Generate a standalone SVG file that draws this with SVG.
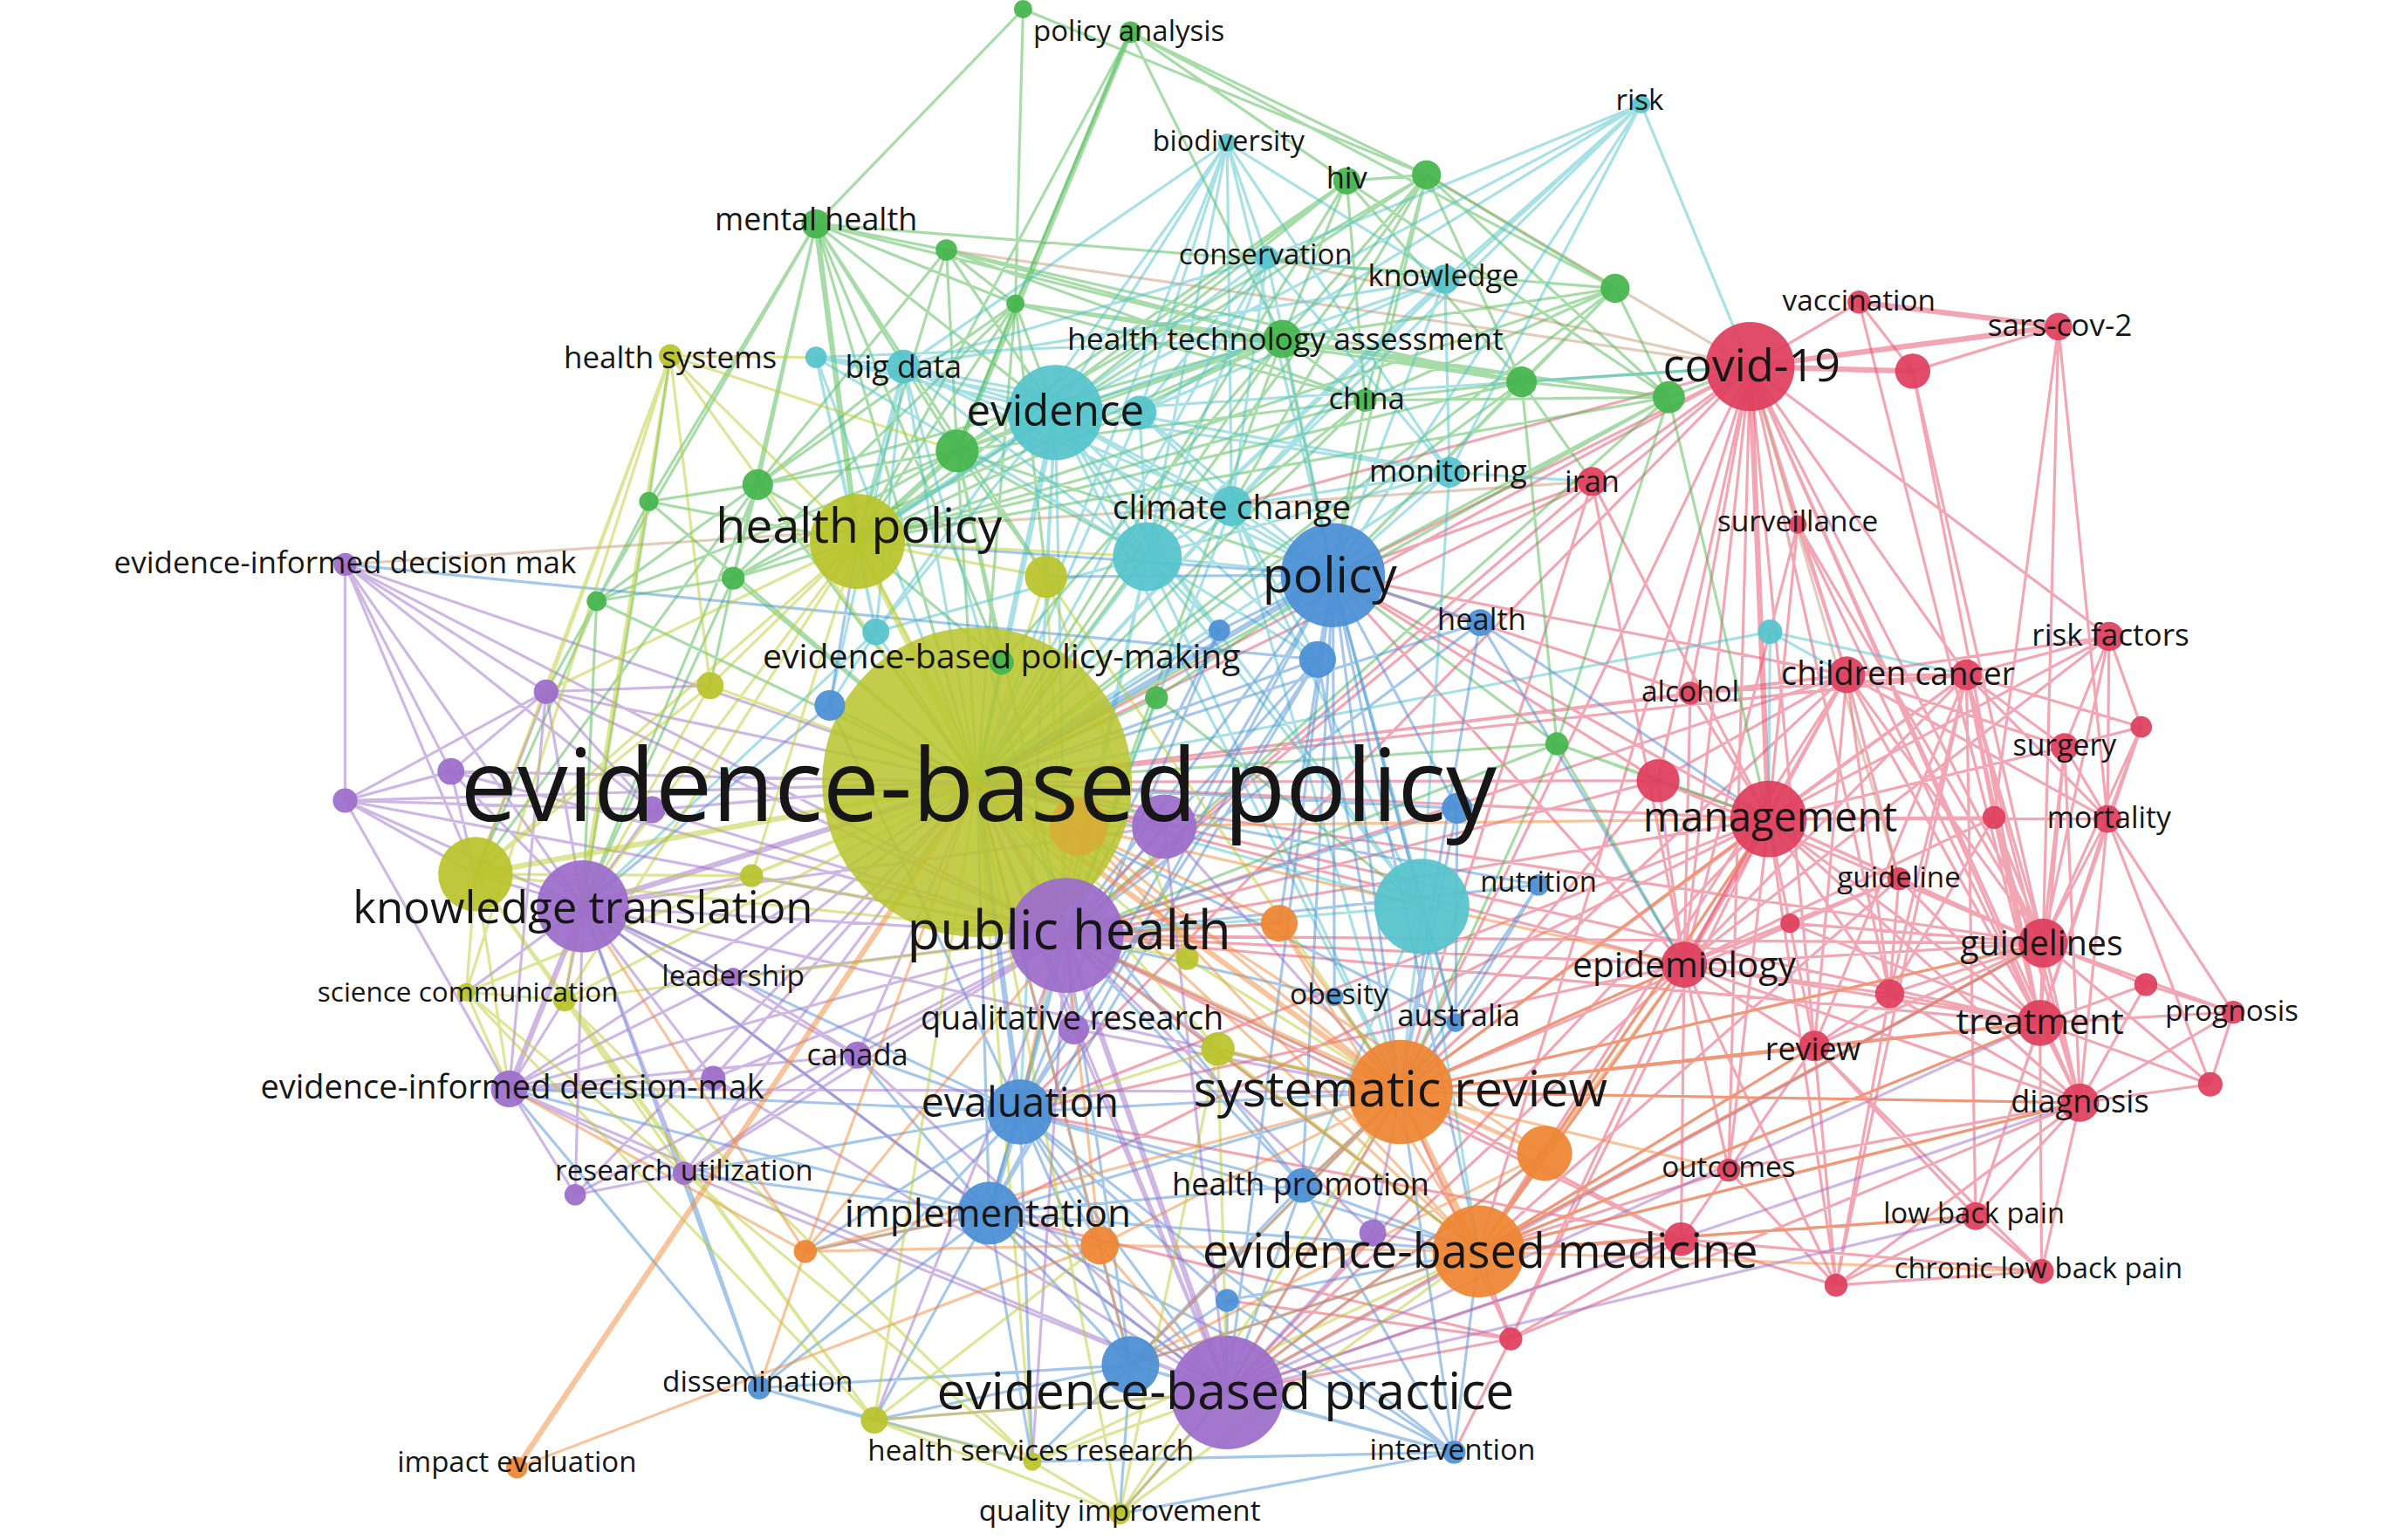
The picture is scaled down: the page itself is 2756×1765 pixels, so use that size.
<svg xmlns="http://www.w3.org/2000/svg" width="2756" height="1765" viewBox="0 0 2756 1765">
<style>
.e{fill:none;stroke-linecap:round;stroke-width:1.8;stroke-opacity:.5}
.tk{stroke-width:3.6}
.red{stroke:#e54b68}.green{stroke:#4fba52}.cyan{stroke:#4fc2cc}.blue{stroke:#4a8fd5}.olive{stroke:#bccb2e}.purple{stroke:#a070cc}.orange{stroke:#f08a3a}.mix{stroke:#c99a78}
circle{fill-opacity:.93}
.nr{fill:#df3e5d}.ng{fill:#45b54c}.nc{fill:#55c4cc}.nb{fill:#4a8fd5}.no{fill:#b9c42b}.np{fill:#9c6dca}.nor{fill:#ee8533}.ngold{fill:#d6ad36}
text{font-family:"Open Sans","Noto Sans","DejaVu Sans",sans-serif;fill:#161616;text-anchor:middle}
</style>
<rect width="2756" height="1765" fill="#ffffff"/>
<g transform="scale(1.7577)">
<g id="connectors">
<path class="e red" d="M1141 239L1212 197M1212 197L1247 242M1342 213L1247 242M1247 242L1332 615M1247 242L1330 667M1212 197L1330 667M1342 213L1332 615M1342 213L1374 534M1342 213L1300 533M1141 239L1038 314M1141 239L1172 342M1141 239L1102 452M1141 239L1204 440M1141 239L1282 440M1141 239L1375 415M1141 239L1081 509M1141 239L1098 629M1141 239L1332 615M1141 239L1232 648M1141 239L1330 667M1141 239L1183 682M1141 239L1356 719M1141 239L1127 763M1141 239L637 510M1141 239L869 375M1141 239L913 712M1141 239L695 610M1141 239L665 725M1141 239L964 816M1141 239L803 330M1038 314L637 510M1038 314L869 375M1038 314L695 610M1038 314L913 712M1038 314L1153 534M1038 314L1098 629M1172 342L1204 440M1172 342L1153 534M1172 342L1098 629M1172 342L1332 615M1172 342L1330 667M1102 452L1204 440M1102 452L1153 534M1102 452L1098 629M1102 452L637 510M1102 452L869 375M1102 452L1282 440M1204 440L637 510M1204 440L695 610M1204 440L869 375M1204 440L913 712M1204 440L1282 440M1204 440L1375 415M1204 440L1346 487M1204 440L1153 534M1204 440L1098 629M1204 440L1332 615M1204 440L1330 667M1204 440L1238 573M1204 440L1183 682M1204 440L1232 648M1204 440L1374 534M1204 440L964 816M1204 440L1081 509M1282 440L1375 415M1282 440L1396 474M1282 440L1346 487M1282 440L1300 533M1282 440L1374 534M1282 440L1332 615M1282 440L1330 667M1282 440L1356 719M1282 440L1153 534M1282 440L1098 629M1282 440L1183 682M1282 440L637 510M1282 440L1288 793M1282 440L1197 838M1282 440L913 712M1282 440L1232 648M1375 415L1396 474M1375 415L1346 487M1375 415L1374 534M1375 415L1332 615M1375 415L1153 534M1375 415L1098 629M1396 474L1346 487M1396 474L1374 534M1396 474L1332 615M1396 474L1330 667M1346 487L1374 534M1346 487L1332 615M1346 487L1330 667M1346 487L1356 719M1346 487L1153 534M1300 533L1332 615M1300 533L1330 667M1300 533L1232 648M1300 533L1153 534M1300 533L1356 719M1300 533L1098 629M1374 534L1332 615M1374 534L1330 667M1374 534L1456 660M1374 534L1356 719M1374 534L1153 534M1374 534L1441 707M1374 534L1288 793M1153 534L637 510M1153 534L695 610M1153 534L913 712M1153 534L964 816M1153 534L869 375M1153 534L665 725M1153 534L645 791M1153 534L800 908M1153 534L1081 509M1153 534L1332 615M1153 534L1330 667M1153 534L1356 719M1153 534L1232 648M1153 534L1238 573M1153 534L1183 682M1153 534L1127 763M1153 534L1197 838M1153 534L1007 752M1081 509L637 510M1081 509L695 610M1081 509L869 375M1081 509L913 712M1081 509L1098 629M1081 509L1332 615M1238 573L1232 648M1238 573L1332 615M1238 573L1098 629M1238 573L913 712M1238 573L964 816M1238 573L1330 667M1167 602L1332 615M1167 602L1098 629M1167 602L1330 667M1098 629L637 510M1098 629L695 610M1098 629L913 712M1098 629L964 816M1098 629L869 375M1098 629L1332 615M1098 629L1330 667M1098 629L1356 719M1098 629L1127 763M1098 629L1232 648M1098 629L1197 838M1098 629L1096 808M1098 629L665 725M1098 629L800 908M1098 629L1183 682M1332 615L1330 667M1332 615L1456 660M1332 615L1399 642M1332 615L1356 719M1332 615L1183 682M1332 615L1232 648M1332 615L1441 707M1332 615L913 712M1332 615L964 816M1332 615L637 510M1332 615L695 610M1399 642L1330 667M1399 642L1356 719M1399 642L1456 660M1232 648L1330 667M1232 648L1197 838M1232 648L1183 682M1232 648L1356 719M1330 667L1456 660M1330 667L1356 719M1330 667L1183 682M1330 667L1441 707M1330 667L1288 793M1330 667L1331 829M1330 667L913 712M1330 667L964 816M1330 667L695 610M1330 667L637 510M1456 660L1441 707M1456 660L1356 719M1183 682L1127 763M1183 682L1197 838M1183 682L1288 793M1183 682L1331 829M1183 682L913 712M1183 682L964 816M1356 719L1441 707M1356 719L1288 793M1356 719L1331 829M1356 719L1197 838M1356 719L1127 763M1356 719L964 816M1356 719L913 712M1127 763L1096 808M1127 763L964 816M1127 763L1197 838M1288 793L1331 829M1288 793L1197 838M1288 793L964 816M1096 808L964 816M1096 808L913 712M1096 808L800 908M1096 808L695 610M1096 808L1197 838M1096 808L985 873M1096 808L665 725M985 873L964 816M985 873L800 908M985 873L800 848M985 873L913 712M985 873L1098 629M985 873L1153 534M985 873L948 947M985 873L1356 719M985 873L645 791M1197 838L1331 829M1331 829L1096 808"/>
<path class="e red tk" d="M1141 239L1342 213M1141 239L1247 242M1212 197L1342 213M1153 534L1098 629M1141 239L1153 534"/>
<path class="e mix" d="M617 163L1141 239M930 114L1141 239M826 168L1141 239M225 368L1038 314M1141 239L1238 573"/>
<path class="e green" d="M667 6L532 146M667 6L662 198M667 6L930 114M737 21L878 118M737 21L930 114M737 21L836 221M737 21L1053 188M737 21L559 353M737 21L662 198M532 146L617 163M532 146L662 198M532 146L624 294M532 146L494 316M532 146L423 327M532 146L478 377M532 146L637 510M532 146L836 221M532 146L688 269M532 146L389 392M532 146L1053 188M532 146L682 376M532 146L653 432M617 163L662 198M617 163L624 294M617 163L836 221M617 163L559 353M617 163L494 316M617 163L688 269M617 163L890 261M617 163L992 249M662 198L624 294M662 198L559 353M662 198L836 221M662 198L688 269M662 198L494 316M662 198L890 261M662 198L637 510M662 198L992 249M662 198L682 376M662 198L478 377M662 198L1088 259M878 118L930 114M878 118L836 221M878 118L890 261M878 118L992 249M878 118L559 353M878 118L624 294M878 118L688 269M878 118L637 510M878 118L1088 259M930 114L836 221M930 114L890 261M930 114L992 249M930 114L1088 259M930 114L1053 188M930 114L559 353M930 114L637 510M930 114L624 294M930 114L869 375M930 114L803 330M1053 188L992 249M1053 188L1088 259M1053 188L890 261M1053 188L836 221M1053 188L559 353M1053 188L637 510M1053 188L869 375M836 221L992 249M836 221L1088 259M836 221L890 261M836 221L559 353M836 221L624 294M836 221L494 316M836 221L637 510M836 221L688 269M836 221L869 375M836 221L653 432M836 221L478 377M836 221L695 610M992 249L1088 259M992 249L1141 239M992 249L890 261M992 249L637 510M992 249L869 375M992 249L1038 314M992 249L1015 485M992 249L559 353M1088 259L1141 239M1088 259L637 510M1088 259L869 375M1088 259L1015 485M1088 259L695 610M1088 259L1153 534M1088 259L559 353M1088 259L890 261M890 261L637 510M890 261L869 375M890 261L624 294M890 261L559 353M890 261L803 330M624 294L494 316M624 294L637 510M624 294L478 377M624 294L653 432M624 294L682 376M624 294L688 269M624 294L869 375M624 294L695 610M624 294L389 392M624 294L748 363M494 316L559 353M494 316L423 327M494 316L478 377M494 316L637 510M494 316L380 591M494 316L389 392M494 316L310 570M494 316L589 239M423 327L559 353M423 327L389 392M423 327L437 232M423 327L637 510M423 327L380 591M478 377L559 353M478 377L637 510M478 377L389 392M478 377L380 591M478 377L463 447M389 392L637 510M389 392L380 591M389 392L310 570M389 392L356 451M754 455L637 510M754 455L869 375M754 455L695 610M754 455L927 591M1015 485L1153 534M1015 485L1081 509M1015 485L637 510M1015 485L869 375M1015 485L1098 629M1015 485L913 712M1015 485L695 610M653 432L637 510M653 432L559 353"/>
<path class="e green tk" d="M737 21L624 294M624 294L559 353M532 146L559 353"/>
<path class="e cyan" d="M1070 68L942 182M1070 68L803 330M1070 68L688 269M1070 68L748 363M1070 68L945 308M1070 68L1141 239M1070 68L826 168M1070 68L869 375M1070 68L743 269M800 93L826 168M800 93L688 269M800 93L803 330M800 93L748 363M800 93L743 269M800 93L942 182M800 93L589 239M800 93L869 375M800 93L945 308M800 93L637 510M800 93L571 412M826 168L688 269M826 168L803 330M826 168L748 363M826 168L743 269M826 168L942 182M826 168L589 239M826 168L945 308M826 168L869 375M826 168L637 510M942 182L688 269M942 182L803 330M942 182L748 363M942 182L945 308M942 182L743 269M942 182L869 375M942 182L637 510M942 182L589 239M589 239L532 233M589 239L688 269M589 239L748 363M589 239L571 412M589 239L637 510M589 239L559 353M589 239L869 375M589 239L803 330M589 239L695 610M589 239L541 460M589 239L743 269M532 233L688 269M532 233L571 412M532 233L559 353M532 233L637 510M532 233L748 363M532 233L945 308M532 233L836 221M688 269L743 269M688 269L803 330M688 269L748 363M688 269L571 412M688 269L869 375M688 269L695 610M688 269L927 591M688 269L913 712M688 269L665 725M688 269L795 411M688 269L859 430M688 269L945 308M688 269L1141 239M688 269L682 376M743 269L803 330M743 269L748 363M743 269L637 510M743 269L869 375M803 330L748 363M803 330L869 375M803 330L637 510M803 330L945 308M803 330L927 591M803 330L859 430M803 330L695 610M803 330L913 712M748 363L637 510M748 363L869 375M748 363L695 610M748 363L927 591M748 363L859 430M748 363L795 411M748 363L571 412M748 363L913 712M748 363L665 725M945 308L869 375M945 308L637 510M945 308L927 591M945 308L1038 314M945 308L748 363M571 412L637 510M571 412L559 353M571 412L380 591M571 412L541 460M1154 412L1204 440M1154 412L1282 440M1154 412L637 510M1154 412L1153 534M927 591L637 510M927 591L695 610M927 591L913 712M927 591L869 375M927 591L949 667M927 591L849 773M927 591L964 816"/>
<path class="e cyan tk" d="M688 269L637 510M688 269L559 353"/>
<path class="e blue" d="M869 375L695 610M869 375L927 591M869 375L913 712M869 375L964 816M869 375L859 430M869 375L795 411M869 375L965 406M869 375L950 527M869 375L665 725M869 375L645 791M869 375L849 773M869 375L800 908M869 375L559 353M869 375L949 667M869 375L870 650M869 375L834 602M869 375L682 376M795 411L637 510M795 411L695 610M795 411L665 725M859 430L637 510M859 430L695 610M859 430L665 725M859 430L913 712M859 430L645 791M965 406L637 510M965 406L1153 534M965 406L913 712M965 406L695 610M965 406L1098 629M541 460L637 510M541 460L559 353M541 460L380 591M541 460L665 725M950 527L637 510M950 527L913 712M950 527L695 610M950 527L949 667M1003 577L637 510M1003 577L913 712M1003 577L695 610M1003 577L949 667M870 650L913 712M870 650L695 610M949 667L913 712M949 667L637 510M665 725L695 610M665 725L913 712M665 725L964 816M665 725L800 908M665 725L737 890M665 725L849 773M665 725L559 688M665 725L380 591M665 725L495 905M665 725L948 947M665 725L673 953M665 725L800 848M665 725L332 710M665 725L717 812M665 725L525 816M665 725L446 765M645 791L637 510M645 791L695 610M645 791L800 908M645 791L913 712M645 791L964 816M645 791L737 890M645 791L495 905M645 791L570 926M645 791L673 953M645 791L380 591M645 791L559 688M645 791L948 947M645 791L717 812M645 791L525 816M645 791L332 710M645 791L446 765M645 791L849 773M849 773L637 510M849 773L695 610M849 773L913 712M849 773L964 816M849 773L800 908M849 773L737 890M849 773L948 947M800 848L800 908M800 848L964 816M800 848L737 890M800 848L948 947M737 890L800 908M737 890L948 947M737 890L570 926M737 890L673 953M737 890L730 987M737 890L495 905M737 890L964 816M737 890L913 712M737 890L695 610M737 890L637 510M495 905L570 926M495 905L446 765M495 905L332 710M495 905L673 953M495 905L380 591M948 947L800 908M948 947L964 816M948 947L913 712M948 947L673 953M948 947L730 987M225 368L859 430"/>
<path class="e blue tk" d="M869 375L637 510M665 725L645 791M665 725L637 510"/>
<path class="e purple" d="M225 368L356 451M225 368L294 503M225 368L225 522M225 368L425 528M225 368L380 591M225 368L637 510M225 368L695 610M225 368L310 570M356 451L225 522M356 451L425 528M356 451L380 591M356 451L637 510M356 451L695 610M356 451L310 570M356 451L294 503M356 451L332 710M356 451L463 447M294 503L225 522M294 503L380 591M294 503L637 510M294 503L695 610M294 503L310 570M225 522L380 591M225 522L310 570M225 522L637 510M225 522L695 610M225 522L332 710M225 522L425 528M425 528L637 510M425 528L695 610M425 528L380 591M380 591L695 610M380 591L446 765M380 591L559 688M380 591L465 703M380 591L478 637M380 591L310 570M380 591L800 908M380 591L913 712M380 591L375 779M380 591L304 647M380 591L368 652M380 591L490 571M380 591L759 539M695 610L913 712M695 610L964 816M695 610L559 688M695 610L700 671M695 610L759 539M695 610L834 602M695 610L794 684M695 610L895 804M695 610L570 926M695 610L673 953M695 610L478 637M695 610L465 703M759 539L637 510M759 539L913 712M759 539L800 908M478 637L637 510M478 637L332 710M478 637L559 688M559 688L637 510M559 688L800 908M559 688L332 710M559 688L446 765M465 703L332 710M465 703L637 510M465 703L800 908M332 710L446 765M332 710L375 779M332 710L637 510M332 710L695 610M332 710L800 908M332 710L465 703M332 710L368 652M332 710L913 712M446 765L375 779M446 765L637 510M446 765L800 908M446 765L695 610M375 779L637 510M375 779L695 610M700 671L637 510M700 671L800 908M700 671L913 712M895 804L800 908M895 804L964 816M895 804L913 712M800 908L637 510M800 908L913 712M800 908L964 816M800 908L730 987M800 908L570 926M800 908L1356 719M800 908L1288 793M800 908L1330 667M800 908L1332 615M800 908L1007 752"/>
<path class="e purple tk" d="M695 610L637 510M380 591L637 510M332 710L380 591M695 610L800 908"/>
<path class="e orange" d="M913 712L695 610M913 712L1007 752M913 712L834 602M913 712L849 773M913 712L1153 534M913 712L1098 629M913 712L1330 667M913 712L1332 615M913 712L1356 719M913 712L717 812M913 712L525 816M913 712L1127 763M913 712L1183 682M913 712L794 684M913 712L737 890M913 712L800 908M964 816L637 510M964 816L695 610M964 816L1007 752M964 816L800 908M964 816L737 890M964 816L1153 534M964 816L1098 629M964 816L1332 615M964 816L1330 667M964 816L1356 719M964 816L1288 793M964 816L1331 829M964 816L1183 682M964 816L717 812M1007 752L637 510M1007 752L695 610M1007 752L1098 629M1007 752L1153 534M1007 752L800 908M1007 752L737 890M834 602L637 510M834 602L695 610M834 602L964 816M717 812L800 908M717 812L964 816M717 812L637 510M717 812L695 610M717 812L525 816M717 812L737 890M525 816L645 791M525 816L380 591M525 816L332 710M525 816L495 905M525 816L637 510M525 816L695 610M337 957L717 812M703 539L913 712M703 539L964 816M703 539L665 725M703 539L1153 534M703 539L1098 629"/>
<path class="e orange tk" d="M337 957L637 510M913 712L964 816M913 712L637 510"/>
<path class="e olive" d="M637 510L437 232M637 510L682 376M637 510L463 447M637 510L490 571M637 510L774 625M637 510L304 647M637 510L368 652M637 510L794 684M637 510L570 926M637 510L673 953M637 510L730 987M559 353L437 232M559 353L682 376M559 353L463 447M559 353L310 570M559 353L380 591M559 353L356 451M559 353L695 610M559 353L490 571M559 353L748 363M559 353L368 652M437 232L310 570M437 232L380 591M437 232L463 447M437 232L368 652M437 232L304 647M437 232L532 233M437 232L624 294M437 232L356 451M682 376L774 625M682 376L913 712M682 376L695 610M463 447L310 570M463 447L380 591M310 570L304 647M310 570L368 652M310 570L490 571M310 570L695 610M310 570L332 710M310 570L570 926M490 571L695 610M774 625L913 712M774 625L695 610M304 647L368 652M304 647L332 710M304 647L570 926M304 647L673 953M368 652L570 926M368 652L673 953M368 652L695 610M368 652L446 765M794 684L913 712M794 684L964 816M794 684L800 908M794 684L665 725M794 684L730 987M570 926L673 953M570 926L730 987M570 926L800 908M570 926L717 812M673 953L730 987M673 953L800 908M673 953L964 816M730 987L800 908M730 987L964 816M730 987L913 712"/>
<path class="e olive tk" d="M637 510L559 353M637 510L310 570"/>
</g>
<g id="nodes">
<g id="node-evidence-based-policy"><circle class="no" cx="637" cy="510" r="101" style="fill-opacity:.85"/></g>
<g id="node-public-health"><circle class="np" cx="695" cy="610" r="37.5"/></g>
<g id="node-evidence-based-practice"><circle class="np" cx="800" cy="908" r="37"/></g>
<g id="node-policy"><circle class="nb" cx="869" cy="375" r="34"/></g>
<g id="node-systematic-review"><circle class="nor" cx="913" cy="712" r="34"/></g>
<g id="node-health-policy"><circle class="no" cx="559" cy="353" r="31"/></g>
<g id="node-evidence"><circle class="nc" cx="688" cy="269" r="31"/></g>
<g id="node-cyan-big"><circle class="nc" cx="927" cy="591" r="31"/></g>
<g id="node-evidence-based-medicine"><circle class="nor" cx="964" cy="816" r="30"/></g>
<g id="node-knowledge-translation"><circle class="np" cx="380" cy="591" r="30"/></g>
<g id="node-covid-19"><circle class="nr" cx="1141" cy="239" r="29"/></g>
<g id="node-management"><circle class="nr" cx="1153" cy="534" r="25"/></g>
<g id="node-olive-left"><circle class="no" cx="310" cy="570" r="24.3"/></g>
<g id="node-cyan-2"><circle class="nc" cx="748" cy="363" r="22.5"/></g>
<g id="node-evaluation"><circle class="nb" cx="665" cy="725" r="21.3"/></g>
<g id="node-purple-mid"><circle class="np" cx="759" cy="539" r="21"/></g>
<g id="node-implementation"><circle class="nb" cx="645" cy="791" r="20.5"/></g>
<g id="node-orange-gold"><circle class="ngold" cx="703" cy="539" r="18.8"/></g>
<g id="node-blue-low"><circle class="nb" cx="737" cy="890" r="18.8"/></g>
<g id="node-orange-3"><circle class="nor" cx="1007" cy="752" r="18"/></g>
<g id="node-guidelines"><circle class="nr" cx="1332" cy="615" r="16"/></g>
<g id="node-epidemiology"><circle class="nr" cx="1098" cy="629" r="15"/></g>
<g id="node-treatment"><circle class="nr" cx="1330" cy="667" r="15"/></g>
<g id="node-green-13"><circle class="ng" cx="624" cy="294" r="14"/></g>
<g id="node-red-16"><circle class="nr" cx="1081" cy="509" r="14"/></g>
<g id="node-olive-4"><circle class="no" cx="682" cy="376" r="13.8"/></g>
<g id="node-climate-change"><circle class="nc" cx="803" cy="330" r="13"/></g>
<g id="node-children"><circle class="nr" cx="1204" cy="440" r="12"/></g>
<g id="node-health-technology-assessment"><circle class="ng" cx="836" cy="221" r="12.5"/></g>
<g id="node-diagnosis"><circle class="nr" cx="1356" cy="719" r="12.5"/></g>
<g id="node-orange-5"><circle class="nor" cx="717" cy="812" r="12.5"/></g>
<g id="node-evidence-informed-decision-mak-2"><circle class="np" cx="332" cy="710" r="12"/></g>
<g id="node-blue-3"><circle class="nb" cx="859" cy="430" r="12"/></g>
<g id="node-orange-4"><circle class="nor" cx="834" cy="602" r="12"/></g>
<g id="node-red-4"><circle class="nr" cx="1247" cy="242" r="11.5"/></g>
<g id="node-health-promotion"><circle class="nb" cx="849" cy="773" r="11.3"/></g>
<g id="node-big-data"><circle class="nc" cx="589" cy="239" r="11"/></g>
<g id="node-cyan-8"><circle class="nc" cx="743" cy="269" r="11"/></g>
<g id="node-olive-11"><circle class="no" cx="794" cy="684" r="11"/></g>
<g id="node-red-32"><circle class="nr" cx="1096" cy="808" r="11"/></g>
<g id="node-green-11"><circle class="ng" cx="1088" cy="259" r="10.5"/></g>
<g id="node-green-10"><circle class="ng" cx="992" cy="249" r="10"/></g>
<g id="node-green-14"><circle class="ng" cx="494" cy="316" r="10"/></g>
<g id="node-monitoring"><circle class="nc" cx="945" cy="308" r="10"/></g>
<g id="node-cancer"><circle class="nr" cx="1282" cy="440" r="10"/></g>
<g id="node-qualitative-research"><circle class="np" cx="700" cy="671" r="10"/></g>
<g id="node-review"><circle class="nr" cx="1183" cy="682" r="10"/></g>
<g id="node-blue-5"><circle class="nb" cx="541" cy="460" r="10"/></g>
<g id="node-blue-6"><circle class="nb" cx="950" cy="527" r="10"/></g>
<g id="node-mental-health"><circle class="ng" cx="532" cy="146" r="9.5"/></g>
<g id="node-green-7"><circle class="ng" cx="930" cy="114" r="9.5"/></g>
<g id="node-green-8"><circle class="ng" cx="1053" cy="188" r="9.5"/></g>
<g id="node-knowledge"><circle class="nc" cx="942" cy="182" r="9.5"/></g>
<g id="node-iran"><circle class="nr" cx="1038" cy="314" r="9.5"/></g>
<g id="node-risk-factors"><circle class="nr" cx="1375" cy="415" r="9.5"/></g>
<g id="node-red-22"><circle class="nr" cx="1232" cy="648" r="9.5"/></g>
<g id="node-sars-cov-2"><circle class="nr" cx="1342" cy="213" r="9"/></g>
<g id="node-surgery"><circle class="nr" cx="1346" cy="487" r="9"/></g>
<g id="node-mortality"><circle class="nr" cx="1374" cy="534" r="9"/></g>
<g id="node-low-back-pain"><circle class="nr" cx="1288" cy="793" r="9"/></g>
<g id="node-hiv"><circle class="ng" cx="878" cy="118" r="8.8"/></g>
<g id="node-health"><circle class="nb" cx="965" cy="406" r="8.8"/></g>
<g id="node-canada"><circle class="np" cx="559" cy="688" r="8.8"/></g>
<g id="node-cyan-12"><circle class="nc" cx="571" cy="412" r="8.8"/></g>
<g id="node-olive-5"><circle class="no" cx="463" cy="447" r="8.8"/></g>
<g id="node-olive-12"><circle class="no" cx="570" cy="926" r="8.8"/></g>
<g id="node-purple-3"><circle class="np" cx="294" cy="503" r="8.8"/></g>
<g id="node-purple-5"><circle class="np" cx="425" cy="528" r="8.8"/></g>
<g id="node-purple-16"><circle class="np" cx="895" cy="804" r="8.8"/></g>
<g id="node-evidence-based-policy-making"><circle class="ng" cx="653" cy="432" r="8"/></g>
<g id="node-purple-2"><circle class="np" cx="356" cy="451" r="8"/></g>
<g id="node-purple-4"><circle class="np" cx="225" cy="522" r="8"/></g>
<g id="node-purple-11"><circle class="np" cx="465" cy="703" r="8"/></g>
<g id="node-cyan-13"><circle class="nc" cx="1154" cy="412" r="8"/></g>
<g id="node-red-27"><circle class="nr" cx="1441" cy="707" r="8"/></g>
<g id="node-chronic-low-back-pain"><circle class="nr" cx="1331" cy="829" r="8"/></g>
<g id="node-health-systems"><circle class="no" cx="437" cy="232" r="7.5"/></g>
<g id="node-china"><circle class="ng" cx="890" cy="261" r="7.5"/></g>
<g id="node-evidence-informed-decision-mak"><circle class="np" cx="225" cy="368" r="7.5"/></g>
<g id="node-vaccination"><circle class="nr" cx="1212" cy="197" r="7.5"/></g>
<g id="node-alcohol"><circle class="nr" cx="1102" cy="452" r="7.5"/></g>
<g id="node-dissemination"><circle class="nb" cx="495" cy="905" r="7.5"/></g>
<g id="node-intervention"><circle class="nb" cx="948" cy="947" r="7.5"/></g>
<g id="node-prognosis"><circle class="nr" cx="1456" cy="660" r="7.5"/></g>
<g id="node-research-utilization"><circle class="np" cx="446" cy="765" r="7.5"/></g>
<g id="node-guideline"><circle class="nr" cx="1238" cy="573" r="7.5"/></g>
<g id="node-outcomes"><circle class="nr" cx="1127" cy="763" r="7.5"/></g>
<g id="node-conservation"><circle class="nc" cx="826" cy="168" r="7.5"/></g>
<g id="node-green-16"><circle class="ng" cx="478" cy="377" r="7.5"/></g>
<g id="node-green-18"><circle class="ng" cx="754" cy="455" r="7.5"/></g>
<g id="node-green-19"><circle class="ng" cx="1015" cy="485" r="7.5"/></g>
<g id="node-blue-13"><circle class="nb" cx="800" cy="848" r="7.5"/></g>
<g id="node-olive-7"><circle class="no" cx="490" cy="571" r="7.5"/></g>
<g id="node-olive-8"><circle class="no" cx="774" cy="625" r="7.5"/></g>
<g id="node-olive-10"><circle class="no" cx="368" cy="652" r="7.5"/></g>
<g id="node-orange-6"><circle class="nor" cx="525" cy="816" r="7.5"/></g>
<g id="node-red-13"><circle class="nr" cx="1300" cy="533" r="7.5"/></g>
<g id="node-red-21"><circle class="nr" cx="1399" cy="642" r="7.5"/></g>
<g id="node-red-31"><circle class="nr" cx="1197" cy="838" r="7.5"/></g>
<g id="node-red-33"><circle class="nr" cx="985" cy="873" r="7.5"/></g>
<g id="node-quality-improvement"><circle class="no" cx="730" cy="987" r="7"/></g>
<g id="node-impact-evaluation"><circle class="nor" cx="337" cy="957" r="7"/></g>
<g id="node-policy-analysis"><circle class="ng" cx="737" cy="21" r="7"/></g>
<g id="node-nutrition"><circle class="nb" cx="1003" cy="577" r="7"/></g>
<g id="node-green-4"><circle class="ng" cx="617" cy="163" r="7"/></g>
<g id="node-cyan-6"><circle class="nc" cx="532" cy="233" r="7"/></g>
<g id="node-blue-2"><circle class="nb" cx="795" cy="411" r="7"/></g>
<g id="node-purple-14"><circle class="np" cx="375" cy="779" r="7"/></g>
<g id="node-red-11"><circle class="nr" cx="1396" cy="474" r="7"/></g>
<g id="node-green-17"><circle class="ng" cx="389" cy="392" r="6.5"/></g>
<g id="node-green-15"><circle class="ng" cx="423" cy="327" r="6.3"/></g>
<g id="node-red-18"><circle class="nr" cx="1167" cy="602" r="6.3"/></g>
<g id="node-green-1"><circle class="ng" cx="667" cy="6" r="6"/></g>
<g id="node-green-5"><circle class="ng" cx="662" cy="198" r="6"/></g>
<g id="node-australia"><circle class="nb" cx="949" cy="667" r="6"/></g>
<g id="node-obesity"><circle class="nb" cx="870" cy="650" r="6"/></g>
<g id="node-surveillance"><circle class="nr" cx="1172" cy="342" r="6"/></g>
<g id="node-leadership"><circle class="np" cx="478" cy="637" r="6"/></g>
<g id="node-health-services-research"><circle class="no" cx="673" cy="953" r="6"/></g>
<g id="node-risk"><circle class="nc" cx="1070" cy="68" r="6"/></g>
<g id="node-biodiversity"><circle class="nc" cx="800" cy="93" r="6"/></g>
<g id="node-science-communication"><circle class="no" cx="304" cy="647" r="6"/></g>
</g>
<g id="labels">
<text x="638" y="512" dy="0.35em" font-size="66">evidence-based policy</text>
<text x="697" y="607" dy="0.35em" font-size="35">public health</text>
<text x="799" y="907" dy="0.35em" font-size="33.5">evidence-based practice</text>
<text x="867" y="375" dy="0.35em" font-size="32.5">policy</text>
<text x="913" y="710" dy="0.35em" font-size="32.7">systematic review</text>
<text x="560" y="343" dy="0.35em" font-size="31.6">health policy</text>
<text x="965" y="816" dy="0.35em" font-size="30.7">evidence-based medicine</text>
<text x="1142" y="238" dy="0.35em" font-size="29.6">covid-19</text>
<text x="380" y="592" dy="0.35em" font-size="29">knowledge translation</text>
<text x="688" y="268" dy="0.35em" font-size="28">evidence</text>
<text x="1154" y="533" dy="0.35em" font-size="26.7">management</text>
<text x="665" y="719" dy="0.35em" font-size="26.5">evaluation</text>
<text x="644" y="791" dy="0.35em" font-size="25.1">implementation</text>
<text x="1098" y="629" dy="0.35em" font-size="23.2">epidemiology</text>
<text x="1330" y="666" dy="0.35em" font-size="23.3">treatment</text>
<text x="1331" y="615" dy="0.35em" font-size="22.4">guidelines</text>
<text x="803" y="331" dy="0.35em" font-size="22.2">climate change</text>
<text x="653" y="428" dy="0.35em" font-size="22.3">evidence-based policy-making</text>
<text x="1202" y="439" dy="0.35em" font-size="21.5">children</text>
<text x="1281" y="439" dy="0.35em" font-size="21">cancer</text>
<text x="699" y="664" dy="0.35em" font-size="21.5">qualitative research</text>
<text x="334" y="709" dy="0.35em" font-size="21.6">evidence-informed decision-mak</text>
<text x="838" y="221" dy="0.35em" font-size="20.2">health technology assessment</text>
<text x="1356" y="718" dy="0.35em" font-size="20.6">diagnosis</text>
<text x="848" y="772" dy="0.35em" font-size="20.5">health promotion</text>
<text x="1182" y="684" dy="0.35em" font-size="20.4">review</text>
<text x="532" y="143" dy="0.35em" font-size="20.4">mental health</text>
<text x="589" y="239" dy="0.35em" font-size="20.3">big data</text>
<text x="1343" y="212" dy="0.35em" font-size="20">sars-cov-2</text>
<text x="1376" y="414" dy="0.35em" font-size="20">risk factors</text>
<text x="437" y="233" dy="0.35em" font-size="19.9">health systems</text>
<text x="891" y="260" dy="0.35em" font-size="19.8">china</text>
<text x="944" y="307" dy="0.35em" font-size="19.9">monitoring</text>
<text x="951" y="662" dy="0.35em" font-size="19.9">australia</text>
<text x="225" y="367" dy="0.35em" font-size="19.9">evidence-informed decision mak</text>
<text x="878" y="116" dy="0.35em" font-size="19.7">hiv</text>
<text x="1038" y="314" dy="0.35em" font-size="19.6">iran</text>
<text x="966" y="404" dy="0.35em" font-size="19.6">health</text>
<text x="559" y="688" dy="0.35em" font-size="19.6">canada</text>
<text x="941" y="180" dy="0.35em" font-size="19.5">knowledge</text>
<text x="1346" y="486" dy="0.35em" font-size="19.2">surgery</text>
<text x="1375" y="533" dy="0.35em" font-size="19.2">mortality</text>
<text x="873" y="648" dy="0.35em" font-size="19.1">obesity</text>
<text x="1212" y="196" dy="0.35em" font-size="19">vaccination</text>
<text x="1172" y="340" dy="0.35em" font-size="19">surveillance</text>
<text x="1102" y="451" dy="0.35em" font-size="19">alcohol</text>
<text x="478" y="636" dy="0.35em" font-size="19">leadership</text>
<text x="494" y="901" dy="0.35em" font-size="19">dissemination</text>
<text x="947" y="945" dy="0.35em" font-size="19">intervention</text>
<text x="1455" y="659" dy="0.35em" font-size="19">prognosis</text>
<text x="446" y="763" dy="0.35em" font-size="18.9">research utilization</text>
<text x="672" y="946" dy="0.35em" font-size="18.9">health services research</text>
<text x="730" y="985" dy="0.35em" font-size="18.9">quality improvement</text>
<text x="1238" y="572" dy="0.35em" font-size="18.9">guideline</text>
<text x="1127" y="761" dy="0.35em" font-size="18.9">outcomes</text>
<text x="825" y="166" dy="0.35em" font-size="18.8">conservation</text>
<text x="1069" y="65" dy="0.35em" font-size="18.8">risk</text>
<text x="337" y="953" dy="0.35em" font-size="18.8">impact evaluation</text>
<text x="736" y="20" dy="0.35em" font-size="18.8">policy analysis</text>
<text x="1003" y="575" dy="0.35em" font-size="18.7">nutrition</text>
<text x="1329" y="827" dy="0.35em" font-size="18.7">chronic low back pain</text>
<text x="1287" y="791" dy="0.35em" font-size="18.6">low back pain</text>
<text x="801" y="92" dy="0.35em" font-size="18.4">biodiversity</text>
<text x="305" y="647" dy="0.35em" font-size="17.9">science communication</text>
</g>
</g>
</svg>
